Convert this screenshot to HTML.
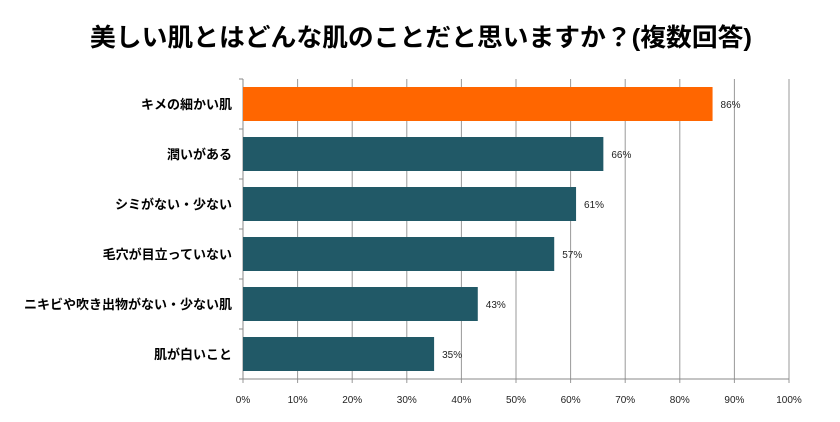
<!DOCTYPE html>
<html><head><meta charset="utf-8">
<style>
body{margin:0;background:#fff;}
svg{display:block;font-family:"Liberation Sans","Noto Sans CJK JP",sans-serif;}
</style></head>
<body>
<svg id="chart" width="840" height="422" viewBox="0 0 840 422">
<text x="421" y="46" text-anchor="middle" font-size="25" font-weight="bold" textLength="662" lengthAdjust="spacingAndGlyphs">美しい肌とはどんな肌のことだと思いますか？(複数回答)</text>
<g id="grid"></g><g id="bars"></g><g id="labels"></g>
</svg>
<script>
const categories=["キメの細かい肌","潤いがある","シミがない・少ない","毛穴が目立っていない","ニキビや吹き出物がない・少ない肌","肌が白いこと"];
const values=[86,66,61,57,43,35];
const ticks=[0,10,20,30,40,50,60,70,80,90,100];
const NS="http://www.w3.org/2000/svg";
const plotX0=243,plotX1=789,plotTop=79,band=50;
const xs=v=>plotX0+(plotX1-plotX0)*v/100;
const ys=i=>plotTop+band*i;
const plotBottom=ys(categories.length);
function mk(t,a,p){const e=document.createElementNS(NS,t);for(const k in a)e.setAttribute(k,a[k]);p.appendChild(e);return e;}
const gGrid=document.getElementById('grid'),gBars=document.getElementById('bars'),gLabels=document.getElementById('labels');
ticks.forEach(t=>{
 const ln=mk('line',{x1:xs(t),x2:xs(t),y1:plotTop,y2:plotBottom+4,stroke:'#999','stroke-width':1},gGrid);
 
 
 const tx=mk('text',{x:xs(t),y:plotBottom+24,'text-anchor':'middle','font-size':10,fill:'#222'},gGrid);
 tx.textContent=t+'%';
 
 
});
const ax=mk('line',{x1:plotX0,x2:plotX1,y1:plotBottom,y2:plotBottom,stroke:'#888','stroke-width':1},gGrid);


const ay=mk('line',{x1:plotX0,x2:plotX0,y1:plotTop,y2:plotBottom,stroke:'#888','stroke-width':1},gGrid);


for(let i=0;i<=categories.length;i++){mk('line',{x1:plotX0-4,x2:plotX0,y1:ys(i),y2:ys(i),stroke:'#888'},gGrid);}
categories.forEach((c,i)=>{
 const r=mk('rect',{x:plotX0,y:ys(i)+8,width:xs(values[i])-plotX0,height:34,fill:i===0?'#ff6600':'#215967'},gBars);
 
 
 const v=mk('text',{x:xs(values[i])+8,y:ys(i)+29,'font-size':10,fill:'#222'},gLabels);
 v.textContent=values[i]+'%';
 
 
 const t=mk('text',{x:232,y:ys(i)+30,'text-anchor':'end','font-size':13,'font-weight':'bold',fill:'#000'},gLabels);
 t.textContent=c;
 
 
});
</script>
</body></html>
